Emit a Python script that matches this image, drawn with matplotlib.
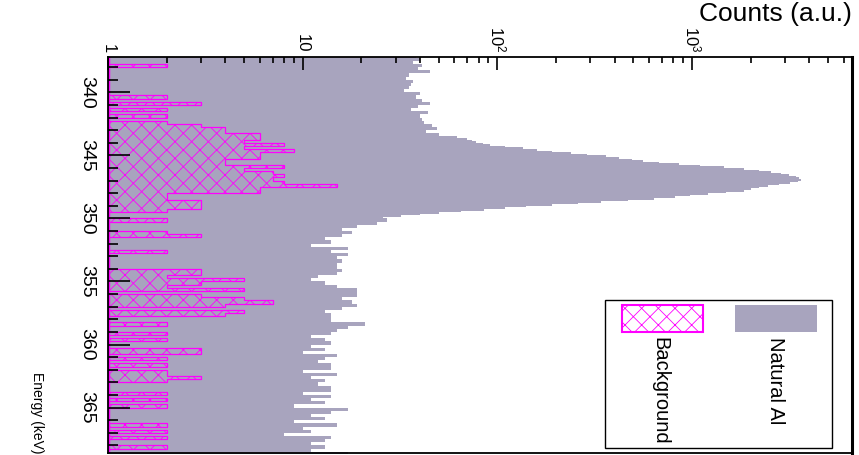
import numpy as np
import matplotlib
matplotlib.use('Agg')
import matplotlib.pyplot as plt
from matplotlib.patches import Rectangle
from matplotlib.ticker import FixedLocator, FixedFormatter, LogLocator, MultipleLocator, NullFormatter

# Natural Al: 0.25 keV bins below the peak, 0.125 keV over the peak, 0.25 keV above
al_low_start, al_low_w = 337.0, 0.25
al_low = [
    38, 40, 37, 41, 39, 45, 35, 34, 37, 36,
    35, 33, 40, 38, 41, 45, 39, 36, 44, 40,
    41, 42, 46, 49, 43, 50,
]
al_peak_start, al_peak_w = 343.5, 0.125
al_peak = [
    62, 70, 74, 78, 84, 92, 110, 135, 160, 190,
    240, 290, 360, 420, 490, 560, 680, 860, 1100, 1450,
    1850, 2200, 2550, 2850, 3150, 3400, 3550, 3620, 3500, 3200,
    2800, 2450, 2200, 2000, 1850, 1500, 1200, 980, 820, 640,
    470, 340, 260, 190, 140, 110, 85, 65, 50, 40,
    32, 26,
]
al_high_start, al_high_w = 350.0, 0.25
al_high = [
    27, 24, 19, 16, 18, 16, 13, 14,
    11, 17, 14, 17, 15, 16, 15, 15, 16, 15,
    12, 11, 13, 15, 19, 19, 19, 16, 18, 19,
    16, 13, 14, 14, 14, 21, 17, 15, 14, 11,
    13, 14, 11, 13, 10, 15, 13, 12, 14, 14,
    10, 15, 11, 13, 12, 14, 14, 10, 14, 11,
    13, 9, 17, 14, 11, 13, 9, 15, 10, 11,
    8, 14, 13, 11, 13, 11, 17,
]

# background counts, 0.25 keV bins from 337.0 keV
bg_start, bg_w = 337.0, 0.25
bg_counts = [
    0, 0, 0, 2, 0, 0, 0, 0, 0, 0,
    0, 0, 0, 2, 0, 3, 0, 2, 0, 2,
    0, 2, 3, 4, 4, 6, 6, 5, 8, 5,
    9, 6, 6, 4, 4, 8, 5, 7, 8, 7,
    8, 15, 6, 6, 2, 2, 3, 3, 3, 2,
    0, 0, 2, 0, 0, 0, 2, 3, 0, 0,
    0, 0, 2, 0, 0, 0, 0, 0, 3, 3,
    2, 5, 3, 2, 5, 0, 3, 5, 7, 4,
    0, 5, 4, 0, 0, 2, 0, 0, 2, 0,
    2, 0, 0, 3, 3, 0, 2, 0, 2, 0,
    2, 2, 3, 2, 0, 0, 0, 2, 0, 2,
    0, 2, 0, 0, 0, 0, 0, 2, 0, 2,
    0, 2, 0, 0, 2, 0, 0,
]

count_ticks = [1, 10, 100, 1000]
count_labels = ['1', '10', '$10^{2}$', '$10^{3}$']
energy_ticks = [340, 345, 350, 355, 360, 365]
legend_names = ['Natural Al', 'Background']

GREY = '#a8a4be'
MAG = '#ff00ff'
FONT = 'Liberation Sans'

plt.rcParams['font.family'] = [FONT, 'DejaVu Sans']
plt.rcParams['mathtext.fontset'] = 'custom'
plt.rcParams['mathtext.rm'] = FONT
plt.rcParams['mathtext.it'] = FONT
plt.rcParams['hatch.linewidth'] = 0.6

W, H = 859, 455
fig = plt.figure(figsize=(W / 100, H / 100), dpi=100)

def fx(x):
    return x / W

def fy(y):
    return 1 - y / H

ax = fig.add_axes([fx(108), fy(453), fx(852) - fx(108), fy(57) - fy(453)])

def bin_edges(start, width, n):
    return start + width * np.arange(n + 1)

al_edges = np.concatenate([
    bin_edges(al_low_start, al_low_w, len(al_low))[:-1],
    bin_edges(al_peak_start, al_peak_w, len(al_peak))[:-1],
    bin_edges(al_high_start, al_high_w, len(al_high)),
])
al = np.array(al_low + al_peak + al_high, float)

bg_edges = bin_edges(bg_start, bg_w, len(bg_counts))
bg = np.array(bg_counts, float)
bg_x = np.where(bg > 0, bg, 1)

ax.fill_betweenx(al_edges, 1, np.append(al, al[-1]), step='post', color=GREY, lw=0)
ax.fill_betweenx(bg_edges, 1, np.append(bg_x, bg_x[-1]), step='post', facecolor='none',
                 edgecolor=MAG, hatch='xx', lw=0)
ax.stairs(bg_x, bg_edges, orientation='horizontal', baseline=1, color=MAG, lw=0.9)
ax.axvline(1, color=MAG, lw=2.5)

ax.set_xscale('log')
ax.set_xlim(1, 10 ** ((852 - 108) / 194.7))
ax.set_ylim(368.6, 337.2)
ax.set_axisbelow(False)

ax.xaxis.tick_top()
ax.xaxis.set_major_locator(FixedLocator(count_ticks))
ax.xaxis.set_major_formatter(FixedFormatter(count_labels))
ax.xaxis.set_minor_locator(LogLocator(subs=np.arange(2, 10)))
ax.xaxis.set_minor_formatter(NullFormatter())
ax.tick_params(axis='x', which='major', direction='in', length=9.5, width=1.2,
               labelrotation=-90, labelsize=12, pad=3)
ax.tick_params(axis='x', which='minor', direction='in', length=4, width=1.2)

ax.set_yticks(energy_ticks)
ax.set_yticklabels([str(e) for e in energy_ticks], rotation=-90, va='center', fontsize=14)
ax.yaxis.set_minor_locator(MultipleLocator(1))
ax.tick_params(axis='y', which='major', direction='in', length=16, width=1.2, pad=9)
ax.tick_params(axis='y', which='minor', direction='in', length=7, width=1.2)

for s in ax.spines.values():
    s.set_linewidth(1.3)
ax.spines['right'].set_linewidth(2.2)

fig.text(fx(852), fy(14), 'Counts (a.u.)', ha='right', va='center', fontsize=19)
fig.text(fx(37), fy(372), 'Energy (keV)', ha='center', va='top', rotation=-90, fontsize=10)

# legend (rotated like the rest of the picture)
fig.add_artist(Rectangle((fx(605), fy(448)), fx(832) - fx(605), fy(300) - fy(448),
                         transform=fig.transFigure, facecolor='white', edgecolor='black', lw=1))
fig.add_artist(Rectangle((fx(735), fy(332)), fx(817) - fx(735), fy(305) - fy(332),
                         transform=fig.transFigure, facecolor=GREY, edgecolor='none'))
fig.add_artist(Rectangle((fx(622), fy(332)), fx(703) - fx(622), fy(305) - fy(332),
                         transform=fig.transFigure, facecolor='none', edgecolor=MAG,
                         hatch='xx', lw=1.5))
fig.text(fx(776), fy(337), legend_names[0], ha='center', va='top', rotation=-90, fontsize=14.5)
fig.text(fx(660), fy(337), legend_names[1], ha='center', va='top', rotation=-90, fontsize=14.5)

fig.savefig('out.png', dpi=100)
